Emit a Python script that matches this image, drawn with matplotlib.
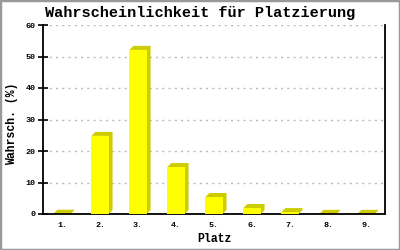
import matplotlib.pyplot as plt
from matplotlib.patches import Rectangle

# data
plaetze = ['1.', '2.', '3.', '4.', '5.', '6.', '7.', '8.', '9.']
werte = [0.1, 24.8, 52.1, 14.9, 5.4, 1.9, 0.6, 0.05, 0.05]

front_color = '#FFFF00'
side_color = '#CCCC00'

fig = plt.figure(figsize=(4, 2.5), dpi=100)
fig.patch.set_facecolor('white')

# axes placed in pixels: left 43, right 385, top 25, bottom 214
ax = fig.add_axes([43 / 400, (250 - 214) / 250, (385 - 43) / 400, (214 - 25) / 250])
ax.set_xlim(-0.5, len(plaetze) - 0.5)
ax.set_ylim(0, 60)

# grid
ax.set_yticks(range(0, 61, 10))
ax.yaxis.grid(True, linestyle=(0, (1.5, 3)), color='#BBBBBB', linewidth=1)
ax.set_axisbelow(True)

# 3D bars: depth of 4 px converted to data units
bw = 0.45
dx = 4 / 38.0
dy = 4 / 3.15
xs = range(len(plaetze))
for x, h in zip(xs, werte):
    x0, x1 = x - bw / 2, x + bw / 2
    ax.fill([x0, x0 + dx, x1 + dx, x1 + dx, x1, x1],
            [h, h + dy, h + dy, dy, 0, h],
            color=side_color, linewidth=0, zorder=2)
ax.bar(xs, werte, width=bw, color=front_color, linewidth=0, zorder=3)

# spines and ticks
for s in ['left', 'bottom', 'right']:
    ax.spines[s].set_color('black')
    ax.spines[s].set_linewidth(1.3)
ax.spines['top'].set_visible(False)
ax.tick_params(axis='y', direction='inout', length=7, width=1.2,
               labelsize=6, pad=2)
ax.tick_params(axis='x', length=0, labelsize=6, pad=6)
ax.set_xticks(list(xs))
ax.set_xticklabels(plaetze)
for lab in ax.get_xticklabels() + ax.get_yticklabels():
    lab.set_family('Liberation Mono')
    lab.set_fontweight('bold')

fig.text(0.5, 1 - 13 / 250, 'Wahrscheinlichkeit für Platzierung', ha='center',
         va='center', fontsize=11, fontweight='bold', family='Liberation Mono')
fig.text(214 / 400, 1 - 239 / 250, 'Platz', ha='center', va='center',
         fontsize=8.3, fontweight='bold', family='Liberation Mono')
fig.text(12 / 400, 1 - 124 / 250, 'Wahrsch. (%)', ha='center', va='center',
         rotation=90, fontsize=8.3, fontweight='bold', family='Liberation Mono')

# gray frame around the picture
fig.patches.append(Rectangle((0, 0), 1, 1, transform=fig.transFigure,
                             fill=False, edgecolor='#999999', linewidth=2.5))

fig.savefig('out.png', dpi=100)
